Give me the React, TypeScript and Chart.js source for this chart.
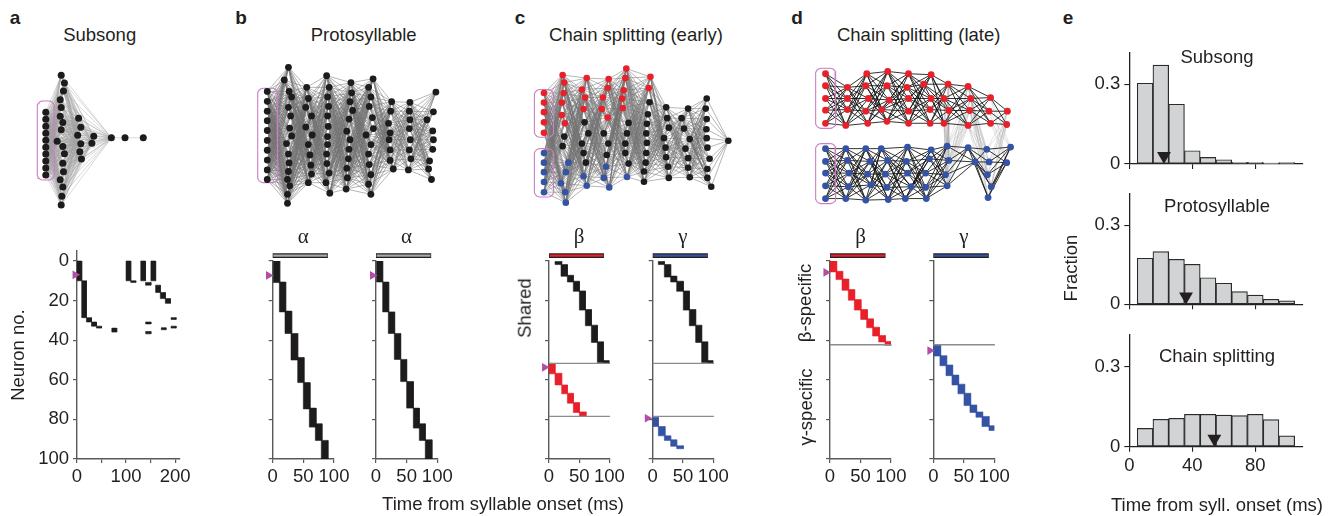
import React, { useEffect, useRef } from 'react';
import { Chart, registerables } from 'chart.js';

Chart.register(...registerables);

const FONT = '"Liberation Sans", Arial, Helvetica, sans-serif';
const SERIF = '"Liberation Serif", "Times New Roman", serif';
const INK = '#231f20';
const AXIS = '#58595b';
const RED = '#e8202a';
const BLUE = '#3553a5';
const BLACK = '#1d1b1c';
const GREY_BAR = '#a7a9ac';
const PURPLE = '#b24ea8';
const PINK = '#cc7fc4';
const HIST_FILL = '#d1d3d4';
const NODE_COLORS = [BLACK, RED, BLUE];

// ---------------- panel e : histograms ----------------
const HIST_BINS = [10, 20, 30, 40, 50, 60, 70, 80, 90, 100];
const FRAC_SUBSONG = [0.304, 0.372, 0.225, 0.05, 0.025, 0.016, 0.006, 0.006, 0.003, 0.005];
const FRAC_PROTOSYLLABLE = [0.175, 0.2, 0.171, 0.152, 0.101, 0.08, 0.048, 0.035, 0.019, 0.013];
const FRAC_CHAIN = [0.069, 0.103, 0.107, 0.122, 0.122, 0.119, 0.117, 0.122, 0.102, 0.041];
const MEDIAN_ONSET = [22, 36, 54];
const HIST_X_TICKS = [0, 40, 80];
const HIST_Y_TICKS = [0, 0.3];
const HIST_TITLES = ['Subsong', 'Protosyllable', 'Chain splitting'];

// ---------------- rasters: [t start, t end, first neuron, last neuron] ----------------
const RASTER_X_TICKS = [0, 50, 100];
const SUBSONG_X_TICKS = [0, 50, 100, 150, 200];
const SUBSONG_X_LABELS = [0, 100, 200];
const NEURON_TICKS = [0, 20, 40, 60, 80, 100];

const RASTER_A = [
  [0, 9.6, 0, 10], [9.6, 19.2, 10, 28.6], [19.2, 29.5, 28.6, 30.8], [29.5, 39.7, 30.8, 32.9],
  [39.7, 50, 32.9, 33.9], [71, 81, 33.9, 35.9], [100, 109.6, 0, 10], [109.6, 119.9, 10, 10.8],
  [130, 139.7, 0, 10], [139.7, 150.7, 10.8, 12.2], [150.7, 160.3, 0, 10], [160.3, 169.9, 12.2, 15.9],
  [169.9, 180.1, 15.9, 19], [180.1, 190.4, 19, 21.4], [140, 150.7, 30.8, 31.8], [140, 150.7, 35.6, 36.8],
  [171.9, 181.5, 33.7, 34.7], [191.8, 202, 28.6, 29.5], [191.8, 202, 32.9, 33.9],
];
const RASTER_B1 = [
  [1, 11.5, 0, 10.9], [10.9, 21.2, 10.6, 25.7], [20.1, 31, 25.3, 36.6], [29.9, 40.8, 36.6, 50],
  [40.8, 51.1, 48.7, 61.4], [50, 60.9, 61.4, 74.7], [59.8, 70.7, 74.3, 83.9], [69.6, 80.4, 82.2, 90.6],
  [79.3, 90.2, 90.6, 100],
];
const RASTER_B2 = [
  [1, 10.9, 0, 10.6], [10.9, 20.7, 10.6, 25.7], [20.1, 30.4, 25.7, 36.6], [29.9, 40.2, 36.6, 49.7],
  [40.2, 50, 49.7, 60.9], [50, 60.9, 60.9, 74.3], [60.9, 70.7, 74.3, 84.4], [70.7, 80.4, 82.2, 90.6],
  [80.4, 91.3, 90.3, 100],
];
const RASTER_C1_SHARED = [
  [10, 21, 0.2, 1.8], [19.9, 30.4, 1.8, 7.7], [30.4, 40.3, 7.2, 10.6], [40.3, 50.3, 10.2, 15.3],
  [50.3, 60.2, 15.1, 24.8], [60.2, 70.2, 24.5, 32.7], [70.2, 80.1, 32.4, 41.1], [80.1, 90.1, 40.8, 51.3],
  [90.1, 100, 50.3, 51.7],
];
const RASTER_C1_BETA = [
  [0, 10, 51.7, 57], [10, 21, 56.7, 62.6], [21, 30.4, 62.6, 67.1], [30.4, 40.3, 66.8, 71.8],
  [40.3, 50.3, 71.5, 76.5], [50.3, 61.3, 76.2, 78.5],
];
const RASTER_C2_SHARED = [
  [9.3, 19.2, 0.2, 1.8], [19.2, 29.7, 1.8, 8.1], [29.7, 39.6, 7.6, 10.6], [39.6, 50.5, 10.2, 15.3],
  [50.5, 60.4, 15.1, 24.8], [60.4, 70.9, 24.5, 32.7], [70.9, 80.8, 32.4, 41.1], [80.8, 90.7, 40.8, 51.3],
  [90.7, 100, 50.3, 51.7],
];
const RASTER_C2_GAMMA = [
  [0, 9.3, 78.9, 83.6], [9.3, 20.3, 83.6, 88.3], [19.2, 29.7, 88.3, 90.6], [29.7, 39.6, 90.3, 93.6],
  [39.6, 50.5, 93.3, 94.8],
];
const RASTER_D1_BETA = [
  [0, 10.9, 0, 5.5], [9.8, 20.8, 5.2, 9.4], [19.7, 30.6, 9.1, 14.8], [30, 40.4, 14.4, 19.8],
  [39.9, 50.8, 19.5, 24.8], [50.3, 61.2, 24.5, 29.5], [60.1, 71, 29.2, 33.7], [69.9, 80.9, 33.4, 37.9],
  [79.8, 90.7, 37.6, 40.9], [90.2, 100, 40.6, 42.6],
];
const RASTER_D2_GAMMA = [
  [0, 12, 42.4, 48], [10.9, 21.9, 47.8, 52.9], [20.8, 31.7, 52.5, 57.9], [30.6, 41.5, 57.6, 62.6],
  [40.4, 51.4, 62.2, 67.1], [50.3, 61.2, 66.8, 73], [60.1, 71, 72.7, 76.5], [69.9, 80.9, 76.2, 78.9],
  [79.8, 91.3, 78.5, 83.6], [91.3, 100, 83.2, 85.6],
];
const C_DIVIDERS = [51.7, 78.5];
const D_DIVIDERS = [42.3];
// onset markers: [time, neuron]
const MARK_A = [-12, 5];
const MARK_B = [-11.4, 5];
const MARK_C1 = [-13.3, 53.9];
const MARK_C2 = [-13.9, 81];
const MARK_D1 = [-12.3, 3.4];
const MARK_D2 = [-10.9, 45];

// ---------------- network layouts (node positions) ----------------
const NET_A_LAYERS = [
  [[43, 111], [43, 118.3], [43, 125.6], [43, 132.9], [43, 140.2], [43, 147.5], [43, 154.8], [43, 162.1], [43, 169.4], [43, 176.7]],
  [[59.3, 72], [62.7, 80.3], [61.7, 88.7], [58.3, 97.7], [59.3, 106], [58.3, 115], [61, 121.7], [59.3, 129.3], [55, 141.3], [61, 146.7], [62.7, 154.3], [61, 164.3], [61.7, 173.3], [58.3, 181.7], [61, 189.3], [60, 199], [59.3, 208.3]],
  [[77.7, 117.3], [80, 126.7], [76.7, 135], [80, 144], [79, 152.3], [80.7, 160]],
  [[93.7, 136], [91.7, 143.3]],
  [[112.3, 137.7]],
  [[126.7, 137.7]],
  [[146, 137.7]],
];
const NET_A_LINKS = [[0, 1], [0, 2], [1, 2], [1, 3], [1, 4], [2, 3], [2, 4], [3, 4], [4, 5], [5, 6]];

const NET_B_LAYERS = [
  [[264, 89.3], [264, 99.7], [264, 110], [264, 120], [264, 130.3], [264, 140.7], [264, 151], [264, 161.3], [264, 171.7], [264, 181.7]],
  [[286, 64], [281.7, 77.3], [286.7, 89.3], [289.3, 95], [286, 106], [288.3, 115], [287.3, 127.7], [289.3, 136], [284, 144], [286, 155], [286.7, 164.3], [286, 173.3], [285, 181.7], [287.3, 188.3], [285, 197.3], [285, 206.7]],
  [[305, 85], [306.7, 96.7], [304, 106], [310, 115], [304, 126.7], [310.7, 135], [306.7, 145], [308.3, 156], [309.3, 166.7], [310, 176], [306.7, 185]],
  [[325.7, 72.7], [328.3, 85], [326.7, 95], [327.7, 105], [326.7, 115], [327.3, 126], [326.7, 136.7], [326.7, 145], [325.7, 155], [326, 165], [328.3, 175], [325, 185], [329, 196]],
  [[351, 80], [351.7, 90.7], [350, 100], [352.7, 109.3], [349, 118.3], [346.7, 131], [350, 140], [349, 150], [348.3, 160], [346.7, 170], [347.3, 180], [346, 191.7]],
  [[374, 76], [369.3, 85], [371.7, 95], [370, 105], [373.3, 116.7], [374.3, 128.3], [366.7, 135], [371.7, 145], [369.3, 155], [370, 166], [371.7, 176.7], [369.3, 186.7], [371.7, 197.3]],
  [[393.3, 100], [392.3, 110], [390, 122.7], [391.7, 132.7], [390.7, 140], [391.7, 150.7], [391.7, 161.7], [395, 170.7]],
  [[412.3, 100.7], [411.7, 110], [412.3, 119], [411.7, 128.3], [412.7, 140], [411.7, 150.7], [413.3, 160], [410.7, 171.7]],
  [[439.3, 90], [436.7, 110.7], [430, 119], [436, 130.7], [436.7, 140], [436, 150], [432.7, 162.3], [431.7, 170.7], [434.7, 181.7]],
];

// [x, y, colour index: 0 black, 1 red, 2 blue]
const NET_C_LAYERS = [
  [[540.7, 91, 1], [540.7, 101, 1], [540.7, 111, 1], [540.7, 121.7, 1], [540.7, 132.7, 1], [540.7, 154, 2], [540.7, 164, 2], [540.7, 174, 2], [540.7, 184.3, 2], [540.7, 195, 2]],
  [[560, 72, 1], [561.7, 80, 1], [561, 91, 1], [559.3, 101, 1], [559.3, 114, 1], [562.3, 122.7, 1], [561.7, 136.7, 0], [560, 146.7, 0], [566, 164, 2], [563.3, 174, 2], [558.3, 185.7, 2], [562.7, 195, 2], [563.3, 206, 2]],
  [[585, 75.3, 1], [580, 87.3, 1], [583.3, 95.7, 1], [581.7, 107.7, 1], [582.7, 121.7, 0], [586.7, 133.3, 0], [580, 144, 0], [581.7, 154, 0], [584, 164, 0], [581.7, 178.3, 2], [585, 188.3, 2]],
  [[607.7, 76.3, 1], [606.7, 85.7, 1], [601.7, 95.7, 1], [600.7, 107.7, 1], [606.7, 116.7, 1], [602.7, 133.3, 0], [607.3, 144, 0], [605.7, 156, 0], [605, 168.3, 2], [602.7, 180, 2], [608.3, 190, 2]],
  [[626, 65.3, 1], [625, 75.3, 1], [623.3, 88, 1], [621.7, 96.7, 1], [622.3, 106.7, 1], [628.3, 122.3, 0], [626.7, 133.3, 0], [625, 144, 0], [625, 154, 0], [628.3, 165, 0], [626.7, 179, 2]],
  [[651, 74, 1], [649.3, 85.7, 1], [650, 100.7, 0], [648.3, 113.3, 0], [647.3, 123.3, 0], [646.7, 133.3, 0], [647.3, 143.3, 0], [646.7, 154, 0], [646, 164, 0], [644.3, 173.3, 0], [644.3, 184, 0]],
  [[667.3, 106, 0], [668.3, 117.3, 0], [670, 127.3, 0], [665, 138.3, 0], [666.7, 148.3, 0], [667.3, 158.3, 0], [669.3, 168.3, 0], [670, 180, 0]],
  [[690, 107.3, 0], [683.3, 117.3, 0], [685.7, 128.3, 0], [691.7, 139.3, 0], [687.3, 149.3, 0], [690, 159.3, 0], [690, 169.3, 0], [691.7, 179.3, 0]],
  [[709.3, 96.7, 0], [708.3, 107.3, 0], [709.3, 118.3, 0], [709, 129, 0], [709.3, 138.3, 0], [710, 148.3, 0], [712.3, 160, 0], [710, 170.7, 0], [710, 180, 0], [714, 189.3, 0]],
  [[731.7, 141, 0]],
];

const NET_D_RED = [
  [[822.3, 70.7], [822.3, 83.3], [822.3, 96.7], [822.3, 109], [822.3, 122.7]],
  [[845, 85], [845, 96.7], [845, 108.3], [843.3, 125]],
  [[865, 70.7], [864, 83.3], [866.7, 96.7], [864, 110], [866, 122.7]],
  [[886.7, 68.3], [886, 83.3], [888.3, 98.3], [880.7, 108.3], [886, 120.7]],
  [[908.3, 70.7], [906.7, 85], [908.3, 96.7], [908.3, 110], [908.3, 122.7]],
  [[931.7, 71.7], [924, 81.7], [931.7, 96.7], [930.7, 108.3], [930.7, 122.7]],
  [[949.3, 81.7], [945, 96.7], [950, 109.3], [945, 122.7]],
  [[970, 84], [972.7, 96.7], [971.7, 109.3], [970, 125]],
  [[993.3, 95.7], [991.7, 110], [993.3, 122.7]],
  [[1010.7, 110], [1010, 124]],
];
const NET_D_BLUE = [
  [[822.3, 149.3], [822.3, 162.7], [822.3, 175], [822.3, 188.3], [822.3, 201.7]],
  [[843.3, 149.3], [845, 161.7], [846.7, 175], [846, 189.3], [843.3, 201.7]],
  [[864, 149.3], [868.3, 162.7], [866, 176], [869.3, 187.3], [864, 203.3]],
  [[880, 149.3], [886.7, 161.7], [884.3, 176], [886, 190], [887.3, 202.7]],
  [[907.3, 147.7], [906, 162.7], [907.3, 175], [911, 189.3], [905, 201.7]],
  [[931.7, 150.7], [930, 160], [926, 175], [926, 190], [926.7, 201.7]],
  [[948.3, 146.7], [950, 161.7], [946.7, 176.7], [948.3, 188.3]],
  [[970, 148.3], [977.3, 163.3]],
  [[989.3, 150], [991.7, 163.3], [990, 176.7], [994, 189.3], [990.7, 200.7]],
  [[1014, 147.7], [1010, 164]],
];
// cross links: [red layer, blue layer]
const NET_D_CROSS = [[7, 6], [7, 8], [9, 8], [8, 9], [6, 6]];

// ---------------- helpers ----------------
function frame(l: number, t: number, r: number, b: number, W: number, H: number, pad: { l: number; t: number; r: number; b: number }) {
  const left = Math.floor(l - W - pad.l);
  const top = Math.floor(t - pad.t);
  const right = Math.ceil(r + pad.r);
  const bottom = Math.ceil(b + H + pad.b);
  return {
    box: { left, top, width: right - left, height: bottom - top },
    padding: { left: l - W - left, top: t - top, right: right - r, bottom: bottom - b - H },
  };
}

function fixedTicks(values: number[]) {
  return (scale: any) => {
    scale.ticks = values.map((v) => ({ value: v }));
  };
}

function rectPts(t0: number, t1: number, n0: number, n1: number) {
  return [{ x: t0, y: n0 }, { x: t1, y: n0 }, { x: t1, y: n1 }, { x: t0, y: n1 }, { x: t0, y: n0 }];
}

function blockSets(blocks: number[][], color: string) {
  return blocks.map((b) => ({
    type: 'line',
    data: rectPts(b[0], b[1], b[2], b[3]),
    fill: 'shape',
    backgroundColor: color,
    borderColor: color,
    borderWidth: 0.6,
    pointRadius: 0,
    tension: 0,
  }));
}

const tickFont = { family: FONT, size: 18.5 };
const baseOptions = {
  responsive: false,
  animation: false,
  devicePixelRatio: 1,
  events: [],
  plugins: { legend: { display: false }, tooltip: { enabled: false }, title: { display: false } },
};

const ROW_TOP0 = 261;
const ROW_BOT = 459;
const PX_PER_NEURON = (ROW_BOT - ROW_TOP0) / 100;
const MARK_GUTTER = 20; // px left of the time axis reserved for onset markers

interface RasterSpec {
  axisX: number;
  pxPerMs: number;
  xMax: number;
  yMin: number;
  W: number;
  xTicks: number[];
  xLabels: number[];
  yLabels: boolean;
  yTitle?: string;
  groups: { blocks: number[][]; color: string }[];
  dividers: number[];
  bar?: { color: string; end: number };
  mark: number[];
}

function rasterChart(s: RasterSpec) {
  const chartTop = ROW_TOP0 + s.yMin * PX_PER_NEURON;
  const f = frame(s.axisX, chartTop, s.axisX + s.xMax * s.pxPerMs, ROW_BOT, s.W, 44, { l: 0, t: 18, r: 24, b: 2 });
  const datasets: any[] = [];
  if (s.bar) {
    datasets.push({ type: 'line', data: [{ x: 1, y: -2.7 }, { x: s.bar.end - 1, y: -2.7 }], borderColor: s.bar.color, borderWidth: 2.4, pointRadius: 0, clip: false });
    datasets.push({ type: 'line', data: [{ x: 0, y: -2.7 }, { x: s.bar.end, y: -2.7 }], borderColor: INK, borderWidth: 4.6, pointRadius: 0, clip: false });
  }
  s.dividers.forEach((n) =>
    datasets.push({ type: 'line', data: [{ x: 0, y: n }, { x: 101, y: n }], borderColor: '#8a8c8e', borderWidth: 1.3, pointRadius: 0, clip: false }),
  );
  s.groups.forEach((g) => datasets.push(...blockSets(g.blocks, g.color)));
  const grid = { drawOnChartArea: false, drawTicks: true, tickLength: 4, color: AXIS, lineWidth: 1.2 };
  const border = { display: true, color: AXIS, width: 1.4 };
  const config: any = {
    type: 'line',
    data: { datasets },
    options: {
      ...baseOptions,
      layout: { padding: f.padding },
      scales: {
        x: {
          type: 'linear', min: 0, max: s.xMax,
          afterBuildTicks: fixedTicks(s.xTicks),
          afterFit: (sc: any) => { sc.height = 44; },
          ticks: { autoSkip: false, maxRotation: 0, font: tickFont, color: INK, padding: 3, callback: (v: number) => (s.xLabels.includes(v) ? String(v) : '') },
          grid, border,
        },
        y: {
          type: 'linear', reverse: true, min: s.yMin, max: 100,
          afterBuildTicks: fixedTicks(NEURON_TICKS),
          afterFit: (sc: any) => { sc.width = s.W; },
          ticks: { autoSkip: false, font: tickFont, color: INK, padding: 4, callback: (v: number) => (s.yLabels ? String(v) : '') },
          grid, border,
          title: s.yTitle
            ? { display: true, text: s.yTitle, font: { family: FONT, size: 18.5 }, color: INK, padding: { top: 4, bottom: 0 } }
            : { display: false },
        },
      },
    },
  };
  return { box: f.box, config };
}

// overlay sharing the raster's time/neuron scales, widened to the left so the onset marker is inside its area
function markerChart(s: RasterSpec) {
  const chartTop = ROW_TOP0 + s.yMin * PX_PER_NEURON;
  const l = s.axisX - MARK_GUTTER;
  const f = frame(l, chartTop, s.axisX + s.xMax * s.pxPerMs, ROW_BOT, 0, 0, { l: 0, t: 0, r: 0, b: 0 });
  const config: any = {
    type: 'scatter',
    data: {
      datasets: [{
        data: [{ x: s.mark[0], y: s.mark[1] }], pointStyle: 'triangle', pointRadius: 5, pointRotation: 90,
        pointBackgroundColor: PURPLE, backgroundColor: PURPLE, pointBorderWidth: 0, borderWidth: 0,
      }],
    },
    options: {
      ...baseOptions,
      layout: { padding: f.padding },
      scales: {
        x: { type: 'linear', display: false, min: -MARK_GUTTER / s.pxPerMs, max: s.xMax },
        y: { type: 'linear', display: false, reverse: true, min: s.yMin, max: 100 },
      },
    },
  };
  return { box: f.box, config };
}

const HIST_AXIS_X = 1129.3;
const HIST_PX_PER_MS = 1.575;
const HIST_X_MAX = 110;
const HIST_Y_MAX = 0.42;

function histChart(values: number[], median: number, zeroY: number, pxPerUnit: number, labels: boolean) {
  const H = labels ? 40 : 14;
  const chartTop = zeroY - HIST_Y_MAX * pxPerUnit;
  const f = frame(HIST_AXIS_X, chartTop, HIST_AXIS_X + HIST_X_MAX * HIST_PX_PER_MS, zeroY, 48, H, { l: 0, t: 18, r: 22, b: 2 });
  const grid = { drawOnChartArea: false, drawTicks: true, tickLength: 5, color: INK, lineWidth: 1.1, offset: false };
  const border = { display: true, color: INK, width: 1.3 };
  const config: any = {
    type: 'bar',
    data: {
      datasets: [
        {
          type: 'scatter', data: [{ x: median, y: 0.03 }], pointStyle: 'triangle', pointRadius: 8,
          pointRotation: 180, pointBackgroundColor: INK, backgroundColor: INK, pointBorderWidth: 0, clip: false,
        },
        {
          type: 'bar', data: HIST_BINS.map((x, i) => ({ x, y: values[i] })), backgroundColor: HIST_FILL,
          borderColor: '#2b2b2b', borderWidth: 1.2, barPercentage: 1, categoryPercentage: 1, borderSkipped: false,
        },
      ],
    },
    options: {
      ...baseOptions,
      layout: { padding: f.padding },
      scales: {
        x: {
          type: 'linear', min: 0, max: HIST_X_MAX, offset: false,
          afterBuildTicks: fixedTicks(HIST_X_TICKS),
          afterFit: (sc: any) => { sc.height = H; },
          ticks: { autoSkip: false, maxRotation: 0, font: tickFont, color: INK, padding: 3, callback: (v: number) => (labels ? String(v) : '') },
          grid, border,
        },
        y: {
          type: 'linear', min: 0, max: HIST_Y_MAX,
          afterBuildTicks: fixedTicks(HIST_Y_TICKS),
          afterFit: (sc: any) => { sc.width = 48; },
          ticks: { autoSkip: false, font: tickFont, color: INK, padding: 4, callback: (v: number) => (v === 0 ? '0' : String(v)) },
          grid, border,
        },
      },
    },
  };
  return { box: f.box, config };
}

function pointsOf(layer: number[][]) {
  return layer.map((p) => ({ x: p[0], y: p[1] }));
}

function edgeData(pairs: number[][][][]) {
  const out: any[] = [];
  for (const [A, B] of pairs) {
    for (const a of A) {
      for (const b of B) {
        out.push({ x: a[0], y: a[1] }, { x: b[0], y: b[1] }, { x: NaN, y: NaN });
      }
    }
  }
  return out;
}

function roundRect(x0: number, y0: number, x1: number, y1: number, r: number) {
  const pts: any[] = [];
  const corners = [[x1 - r, y0 + r, -90], [x1 - r, y1 - r, 0], [x0 + r, y1 - r, 90], [x0 + r, y0 + r, 180]];
  for (const [cx, cy, a0] of corners) {
    for (let k = 0; k <= 6; k++) {
      const a = ((a0 + k * 15) * Math.PI) / 180;
      pts.push({ x: cx + r * Math.cos(a), y: cy + r * Math.sin(a) });
    }
  }
  pts.push(pts[0]);
  return pts;
}

function nodeSet(pts: any[], color: string, r = 3.3) {
  return {
    type: 'scatter', data: pts, pointRadius: r, pointBackgroundColor: color, backgroundColor: color,
    pointBorderWidth: 0, borderWidth: 0, clip: false,
  };
}
function pinkSet(rect: number[]) {
  return { type: 'line', data: roundRect(rect[0], rect[1], rect[2], rect[3], 6), borderColor: PINK, borderWidth: 1.1, pointRadius: 0, fill: false, clip: false };
}
function edgeSet(pairs: number[][][][], color: string, width: number) {
  return { type: 'line', data: edgeData(pairs), borderColor: color, borderWidth: width, pointRadius: 0, spanGaps: false, tension: 0, clip: false };
}

function netChart(box: { left: number; top: number; width: number; height: number }, datasets: any[]) {
  return {
    box,
    config: {
      type: 'scatter',
      data: { datasets },
      options: {
        ...baseOptions,
        layout: { padding: 0 },
        scales: {
          x: { type: 'linear', display: false, min: box.left, max: box.left + box.width },
          y: { type: 'linear', display: false, reverse: true, min: box.top, max: box.top + box.height },
        },
      },
    },
  };
}

function adjacentPairs(layers: number[][][]) {
  const pairs: number[][][][] = [];
  for (let i = 0; i + 1 < layers.length; i++) pairs.push([layers[i], layers[i + 1]]);
  return pairs;
}

function buildCharts() {
  const charts: any[] = [];
  // networks
  charts.push(netChart({ left: 20, top: 55, width: 150, height: 170 }, [
    nodeSet(NET_A_LAYERS.flatMap(pointsOf), BLACK, 3.5),
    pinkSet([34, 99, 52, 182]),
    edgeSet(NET_A_LINKS.map(([i, j]) => [NET_A_LAYERS[i], NET_A_LAYERS[j]]), 'rgba(160,160,160,0.7)', 0.6),
  ]));
  charts.push(netChart({ left: 245, top: 50, width: 210, height: 170 }, [
    nodeSet(NET_B_LAYERS.flatMap(pointsOf), BLACK, 3.4),
    pinkSet([254, 86, 275, 185]),
    edgeSet(adjacentPairs(NET_B_LAYERS), 'rgba(115,115,115,0.75)', 0.7),
  ]));
  const cAll = NET_C_LAYERS.flat();
  charts.push(netChart({ left: 520, top: 50, width: 230, height: 170 }, [
    ...[0, 1, 2].map((c) => nodeSet(cAll.filter((p) => p[2] === c).map((p) => ({ x: p[0], y: p[1] })), NODE_COLORS[c], 3.3)),
    pinkSet([530.7, 87.3, 550.7, 137.3]),
    pinkSet([530.7, 149.3, 550.7, 200]),
    edgeSet(adjacentPairs(NET_C_LAYERS), 'rgba(115,115,115,0.75)', 0.7),
  ]));
  charts.push(netChart({ left: 800, top: 50, width: 230, height: 170 }, [
    nodeSet(NET_D_RED.flatMap(pointsOf), RED, 3.4),
    nodeSet(NET_D_BLUE.flatMap(pointsOf), BLUE, 3.4),
    pinkSet([812, 65, 833, 128]),
    pinkSet([812, 144, 833, 207]),
    edgeSet([...adjacentPairs(NET_D_RED), ...adjacentPairs(NET_D_BLUE)], 'rgba(15,15,15,0.95)', 0.9),
    edgeSet(NET_D_CROSS.map(([r, b]) => [NET_D_RED[r], NET_D_BLUE[b]]), 'rgba(165,165,165,0.5)', 0.6),
  ]));
  // rasters
  const common = { yMin: 0, W: 30, xTicks: RASTER_X_TICKS, xLabels: RASTER_X_TICKS, yLabels: false, xMax: 100 };
  const rasters: RasterSpec[] = [
    {
      axisX: 77, pxPerMs: 0.4905, xMax: 210, yMin: -5, W: 73, xTicks: SUBSONG_X_TICKS, xLabels: SUBSONG_X_LABELS,
      yLabels: true, yTitle: 'Neuron no.', groups: [{ blocks: RASTER_A, color: BLACK }], dividers: [], mark: MARK_A,
    },
    { ...common, axisX: 272.7, pxPerMs: 0.613, groups: [{ blocks: RASTER_B1, color: BLACK }], dividers: [], bar: { color: GREY_BAR, end: 90 }, mark: MARK_B },
    { ...common, axisX: 376, pxPerMs: 0.613, groups: [{ blocks: RASTER_B2, color: BLACK }], dividers: [], bar: { color: GREY_BAR, end: 90 }, mark: MARK_B },
    { ...common, axisX: 549, pxPerMs: 0.604, groups: [{ blocks: RASTER_C1_SHARED, color: BLACK }, { blocks: RASTER_C1_BETA, color: RED }], dividers: C_DIVIDERS, bar: { color: RED, end: 91 }, mark: MARK_C1 },
    { ...common, axisX: 652.7, pxPerMs: 0.606, groups: [{ blocks: RASTER_C2_SHARED, color: BLACK }, { blocks: RASTER_C2_GAMMA, color: BLUE }], dividers: C_DIVIDERS, bar: { color: BLUE, end: 91 }, mark: MARK_C2 },
    { ...common, axisX: 830, pxPerMs: 0.61, groups: [{ blocks: RASTER_D1_BETA, color: RED }], dividers: D_DIVIDERS, bar: { color: RED, end: 91 }, mark: MARK_D1 },
    { ...common, axisX: 933.3, pxPerMs: 0.61, groups: [{ blocks: RASTER_D2_GAMMA, color: BLUE }], dividers: D_DIVIDERS, bar: { color: BLUE, end: 91 }, mark: MARK_D2 },
  ];
  rasters.forEach((r) => {
    charts.push(rasterChart(r));
    charts.push(markerChart(r));
  });
  // histograms
  charts.push(histChart(FRAC_SUBSONG, MEDIAN_ONSET[0], 164, 265.7, false));
  charts.push(histChart(FRAC_PROTOSYLLABLE, MEDIAN_ONSET[1], 304.3, 263.3, false));
  charts.push(histChart(FRAC_CHAIN, MEDIAN_ONSET[2], 446.7, 265.7, true));
  return charts;
}

function ChartCanvas({ box, config }: { box: any; config: any }) {
  const ref = useRef<HTMLCanvasElement>(null);
  useEffect(() => {
    const chart = new Chart(ref.current as HTMLCanvasElement, config);
    return () => chart.destroy();
  }, []);
  return (
    <canvas
      ref={ref}
      width={box.width}
      height={box.height}
      style={{ position: 'absolute', left: box.left, top: box.top, width: box.width, height: box.height }}
    />
  );
}

function Txt({ x, y, s, rot, size = 18.5, bold, serif }: { x: number; y: number; s: string; rot?: number; size?: number; bold?: boolean; serif?: boolean }) {
  return (
    <div
      style={{
        position: 'absolute', left: x, top: y,
        transform: `translate(-50%, -50%)${rot ? ` rotate(${rot}deg)` : ''}`,
        fontFamily: serif ? SERIF : FONT, fontSize: size, fontWeight: bold ? 700 : 400,
        lineHeight: 1, whiteSpace: 'nowrap', color: INK,
      }}
    >
      {s}
    </div>
  );
}

const PANEL_LETTERS: [string, number][] = [['a', 15], ['b', 241], ['c', 520], ['d', 797], ['e', 1068]];
const PANEL_TITLES: [string, number][] = [['Subsong', 99.7], ['Protosyllable', 363.7], ['Chain splitting (early)', 636], ['Chain splitting (late)', 918.7]];
const GREEK: [string, number][] = [['α', 303.3], ['α', 406.6], ['β', 579.2], ['γ', 683], ['β', 860.5], ['γ', 963.8]];
const HIST_TITLE_Y = [56.8, 206, 355.5];

export default function App() {
  const charts = buildCharts();
  return (
    <div style={{ position: 'absolute', left: 0, top: 0, width: 1333, height: 516, overflow: 'hidden', background: '#fff' }}>
      {charts.map((c, i) => (
        <ChartCanvas key={i} box={c.box} config={c.config} />
      ))}
      {PANEL_LETTERS.map(([s, x]) => (
        <Txt key={s} x={x} y={17} s={s} bold size={19} />
      ))}
      {PANEL_TITLES.map(([s, x]) => (
        <Txt key={s} x={x} y={34.5} s={s} />
      ))}
      {GREEK.map(([s, x], i) => (
        <Txt key={i} x={x} y={235.5} s={s} serif size={21} />
      ))}
      <Txt x={503} y={504} s="Time from syllable onset (ms)" />
      <Txt x={524.5} y={307.5} s="Shared" rot={-90} />
      <Txt x={805} y={302.5} s="β-specific" rot={-90} />
      <Txt x={806} y={407} s="γ-specific" rot={-90} />
      {HIST_TITLES.map((s, i) => (
        <Txt key={s} x={1217} y={HIST_TITLE_Y[i]} s={s} />
      ))}
      <Txt x={1071} y={268} s="Fraction" rot={-90} />
      <Txt x={1217} y={505} s="Time from syll. onset (ms)" />
    </div>
  );
}
